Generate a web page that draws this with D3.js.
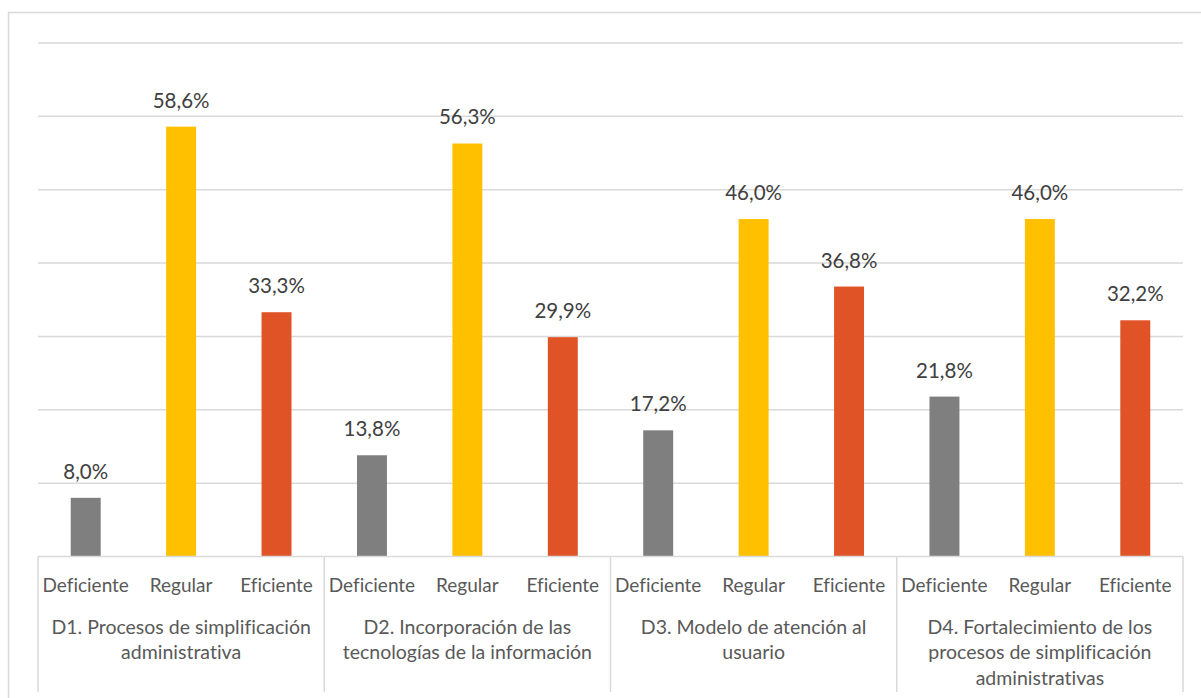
<!DOCTYPE html>
<html><head><meta charset="utf-8">
<script src="https://cdn.jsdelivr.net/npm/d3@7"></script>
<style>body{margin:0;background:#fff;} svg{display:block;} text{font-variant-ligatures:none;font-feature-settings:"liga" 0;}</style>
</head><body>
<svg id="c" width="1201" height="698"></svg>
<script>
const groups = ["D1. Procesos de simplificación administrativa","D2. Incorporación de las tecnologías de la información","D3. Modelo de atención al usuario","D4. Fortalecimiento de los procesos de simplificación administrativas"];
const groupLines = [["D1. Procesos de simplificación","administrativa"],["D2. Incorporación de las","tecnologías de la información"],["D3. Modelo de atención al","usuario"],["D4. Fortalecimiento de los","procesos de simplificación","administrativas"]];
const levels = ["Deficiente","Regular","Eficiente"];
const deficiente = [8.0, 13.8, 17.2, 21.8];
const regular = [58.6, 56.3, 46.0, 46.0];
const eficiente = [33.3, 29.9, 36.8, 32.2];
const yTicks = [0,10,20,30,40,50,60,70];
const colors = {"Deficiente":"#7f7f7f","Regular":"#ffc000","Eficiente":"#e05327"};

const svg = d3.select("#c");
const pL = 38, pR = 1183, pT = 43, pB = 556.5;
const font = "Lato, 'Open Sans', sans-serif";

// outer border
svg.append("rect").attr("x",8.5).attr("y",12.5).attr("width",1300).attr("height",800)
  .attr("fill","none").attr("stroke","#d9d9d9").attr("stroke-width",1.5);

const y = d3.scaleLinear().domain([0,70]).range([pB, pT]);
const x0 = d3.scaleBand().domain(groups).range([pL, pR]);
const x1 = d3.scaleBand().domain(levels).range([0, x0.bandwidth()]).paddingInner(0.686).paddingOuter(0.343);

// gridlines
svg.append("g").selectAll("line").data(yTicks.slice(1)).join("line")
  .attr("x1",pL).attr("x2",pR).attr("y1",d=>y(d)).attr("y2",d=>y(d))
  .attr("stroke","#d9d9d9").attr("stroke-width",1.5);

const series = {"Deficiente":deficiente,"Regular":regular,"Eficiente":eficiente};
const data = [];
groups.forEach((g,i)=>levels.forEach(l=>data.push({g,l,v:series[l][i]})));

const fmt = v => v.toFixed(1).replace(".",",") + "%";

svg.append("g").selectAll("rect").data(data).join("rect")
  .attr("x",d=>x0(d.g)+x1(d.l)).attr("width",x1.bandwidth())
  .attr("y",d=>y(d.v)).attr("height",d=>pB-y(d.v))
  .attr("fill",d=>colors[d.l]);

svg.append("g").selectAll("text").data(data).join("text")
  .attr("x",d=>x0(d.g)+x1(d.l)+x1.bandwidth()/2).attr("y",d=>y(d.v)-19)
  .attr("text-anchor","middle").attr("font-family",font).attr("font-size",20.5)
  .attr("fill","#404040").text(d=>fmt(d.v));

// axis baseline and separators
svg.append("line").attr("x1",pL).attr("x2",pR).attr("y1",pB).attr("y2",pB)
  .attr("stroke","#d9d9d9").attr("stroke-width",1.5);
const seps = groups.map(g=>x0(g)).concat([pR]);
svg.append("g").selectAll("line").data(seps).join("line")
  .attr("x1",d=>d).attr("x2",d=>d).attr("y1",pB).attr("y2",692)
  .attr("stroke","#d9d9d9").attr("stroke-width",1.5);

// category labels
svg.append("g").selectAll("text").data(data).join("text")
  .attr("x",d=>x0(d.g)+x1(d.l)+x1.bandwidth()/2).attr("y",591.5)
  .attr("text-anchor","middle").attr("font-family",font).attr("font-size",19)
  .attr("fill","#595959").text(d=>d.l);

// group labels
groups.forEach((g,i)=>{
  const t = svg.append("text").attr("x",x0(g)+x0.bandwidth()/2).attr("y",633.5)
    .attr("text-anchor","middle").attr("font-family",font).attr("font-size",19.5).attr("fill","#595959");
  groupLines[i].forEach((ln,j)=>t.append("tspan").attr("x",x0(g)+x0.bandwidth()/2).attr("dy",j===0?0:25.7).text(ln));
});
</script>
</body></html>
